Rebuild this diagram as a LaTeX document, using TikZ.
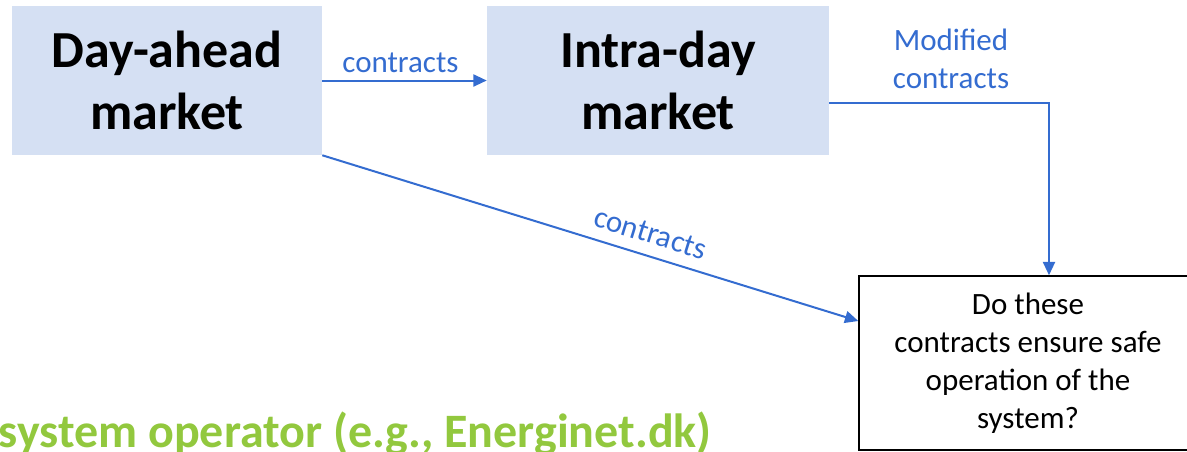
\documentclass[tikz,border=0pt]{standalone}
\usepackage{fontspec}
\setmainfont{Carlito}
\usetikzlibrary{arrows.meta}
\definecolor{flowblue}{RGB}{52,108,208}
\definecolor{marketfill}{RGB}{213,224,243}
\definecolor{tsogreen}{RGB}{146,200,62}
\tikzset{
  market/.style={rectangle, fill=marketfill, inner sep=0pt, align=center,
    minimum height=111.75pt, font=\fontsize{39}{47}\selectfont\bfseries},
  question/.style={rectangle, draw=black, line width=1.1pt, fill=white, inner sep=0pt,
    align=center, minimum width=253.5pt, minimum height=130.5pt,
    font=\fontsize{23.25}{28.5}\selectfont},
  flow/.style={draw=flowblue, line width=1.5pt, -{Triangle[length=10pt,width=9pt]}},
  flowlabel/.style={text=flowblue, font=\fontsize{23.25}{28.5}\selectfont, inner sep=2pt}
}
\begin{document}
\begin{tikzpicture}[x=0.75pt, y=-0.75pt]
  \useasboundingbox (0,0) rectangle (1187,451);
  \clip (0,0) rectangle (1187,451);

  % market boxes
  \node[market, minimum width=232.5pt] (dayahead) at (167,80.5) {Day-ahead\\market};
  \node[market, minimum width=256.5pt] (intraday) at (658,80.5) {Intra-day\\market};

  % operator check
  \node[question] (check) at (1028,363) {Do these\\contracts ensure safe\\operation of the\\system?};

  % contract flows
  \draw[flow] (dayahead.east) -- node[flowlabel, above=3pt, xshift=-3pt] (lblA) {contracts} (intraday.west);
  \draw[flow] (dayahead.south east) -- node[flowlabel, pos=0.6, sloped, above=6.5pt] (lblB) {contracts} ([yshift=31.5pt]check.west);
  \draw[flow] ([yshift=-16.9pt]intraday.east) -| ([xshift=15.75pt]check.north);
  \node[flowlabel, align=center] (lblC) at (951,59) {Modified\\contracts};

  % operator name
  \node[anchor=base east, inner sep=0pt, text=tsogreen, font=\fontsize{36}{43}\selectfont\bfseries] (tso) at (712,447) {system operator (e.g., Energinet.dk)};
\end{tikzpicture}
\end{document}
